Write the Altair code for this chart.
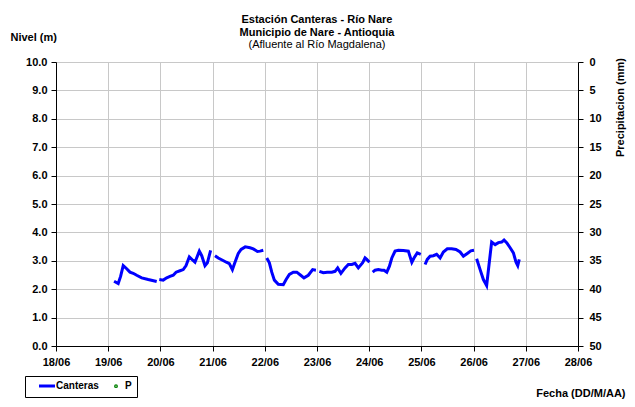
import altair as alt
import pandas as pd

# Nivel (m) readings, Estación Canteras; hours after 18/06 00:00, one list per unbroken stretch
seg1_h = [26.7, 28.6, 29.7, 30.9, 32.5, 34.0, 35.5, 37.1, 39.4, 42.4, 46.3]
seg1_v = [2.28, 2.20, 2.45, 2.83, 2.72, 2.60, 2.56, 2.49, 2.40, 2.34, 2.27]
seg2_h = [47.5, 49.3, 50.9, 52.4, 53.9, 55.2, 57.0, 58.5, 59.8, 61.3, 62.9, 63.9, 65.9, 67.0, 68.5, 69.6, 71.1]
seg2_v = [2.34, 2.32, 2.40, 2.45, 2.49, 2.60, 2.65, 2.69, 2.83, 3.14, 3.02, 2.95, 3.34, 3.18, 2.83, 2.93, 3.37]
seg3_h = [73.1, 74.6, 76.6, 78.3, 79.7, 81.1, 82.3, 83.8, 85.1, 87.0, 89.2, 90.7, 92.6, 93.8, 95.3]
seg3_v = [3.18, 3.10, 3.02, 2.95, 2.90, 2.69, 2.95, 3.26, 3.40, 3.49, 3.46, 3.42, 3.33, 3.34, 3.37]
seg4_h = [96.9, 98.1, 99.2, 100.4, 102.2, 104.5, 105.8, 107.3, 109.1, 110.7, 112.5, 114.0, 116.0, 118.0, 119.5]
seg4_v = [3.10, 2.93, 2.60, 2.32, 2.17, 2.16, 2.34, 2.52, 2.60, 2.60, 2.49, 2.40, 2.49, 2.69, 2.67]
seg5_h = [121.1, 122.9, 124.7, 126.8, 128.3, 129.5, 131.0, 132.9, 134.4, 136.0, 137.5, 139.0, 141.0, 142.1, 142.9, 144.1]
seg5_v = [2.63, 2.58, 2.60, 2.60, 2.63, 2.75, 2.56, 2.75, 2.87, 2.87, 2.91, 2.75, 2.93, 3.10, 3.05, 2.95]
seg6_h = [145.6, 146.7, 148.2, 149.8, 150.8, 152.1, 153.3, 154.4, 155.9, 157.4, 159.7, 162.0, 163.6, 164.6, 166.1, 167.7]
seg6_v = [2.60, 2.67, 2.69, 2.67, 2.67, 2.60, 2.81, 3.10, 3.34, 3.37, 3.36, 3.34, 2.95, 3.10, 3.28, 3.23]
seg7_h = [169.7, 170.7, 172.0, 173.5, 175.0, 176.6, 178.1, 179.9, 181.9, 183.9, 185.8, 187.3, 189.1, 190.7, 192.2]
seg7_v = [2.87, 3.05, 3.16, 3.18, 3.23, 3.10, 3.31, 3.42, 3.42, 3.40, 3.31, 3.16, 3.26, 3.35, 3.37]
seg8_h = [193.4, 195.0, 196.5, 198.0, 199.1, 200.3, 201.9, 203.4, 204.9, 206.0, 207.2, 208.8, 210.3, 211.5, 212.3, 213.0]
seg8_v = [3.07, 2.69, 2.34, 2.13, 2.87, 3.66, 3.57, 3.64, 3.66, 3.73, 3.64, 3.46, 3.28, 2.95, 2.83, 3.05]

# Precipitación P (mm): no readings in this period
p_h = []
p_v = []

series_names = ["Canteras", "P"]
series_colors = ["#0000FF", "#008000"]
day_ticks = [18, 19, 20, 21, 22, 23, 24, 25, 26, 27, 28]

base = pd.Timestamp("2010-06-18 00:00")
segs = [(seg1_h, seg1_v), (seg2_h, seg2_v), (seg3_h, seg3_v), (seg4_h, seg4_v),
        (seg5_h, seg5_v), (seg6_h, seg6_v), (seg7_h, seg7_v), (seg8_h, seg8_v)]
rows = []
for i, (hs, vs) in enumerate(segs):
    for h, v in zip(hs, vs):
        rows.append({"fecha": base + pd.Timedelta(hours=h), "nivel": v, "seg": i, "serie": "Canteras"})
df_line = pd.DataFrame(rows)
df_p = pd.DataFrame({"fecha": [base + pd.Timedelta(hours=h) for h in p_h],
                     "p": p_v, "serie": ["P"] * len(p_h)})

FONT = "Liberation Sans"
x_dom = [alt.DateTime(year=2010, month=6, date=18), alt.DateTime(year=2010, month=6, date=28)]
x_vals = [alt.DateTime(year=2010, month=6, date=d) for d in day_ticks]

x_enc = alt.X("fecha:T",
              scale=alt.Scale(domain=x_dom),
              axis=alt.Axis(values=x_vals, format="%d/%m", title="Fecha (DD/M/AA)",
                            titleAlign="right", titleAnchor="end", titleX=569, titleY=47,
                            titleBaseline="middle", tickSize=5, labelPadding=5,
                            grid=True, labelFlush=False))

sym_expr = "datum.value === 'P' ? 'circle' : 'stroke'"
size_expr = "datum.value === 'P' ? 2 : 256"
sw_expr = "datum.value === 'P' ? 2.5 : 3"

line = alt.Chart(df_line).mark_line(strokeWidth=3, interpolate="linear").encode(
    x=x_enc,
    y=alt.Y("nivel:Q", scale=alt.Scale(domain=[0, 10], nice=False),
            axis=alt.Axis(values=list(range(0, 11)), format=".1f", title="Nivel (m)",
                          orient="left", titleAngle=0, titleAlign="left", titleX=-46, titleY=-25,
                          titleBaseline="middle", tickSize=5, labelPadding=4, grid=True)),
    color=alt.Color("serie:N",
                    scale=alt.Scale(domain=series_names, range=series_colors),
                    legend=alt.Legend(title=None, orient="none", direction="horizontal",
                                      legendX=-31, legendY=314,
                                      symbolType=alt.ExprRef(sym_expr),
                                      symbolSize=alt.ExprRef(size_expr),
                                      symbolStrokeWidth=alt.ExprRef(sw_expr),
                                      symbolOffset=12,
                                      labelExpr="datum.label === 'P' ? 'P\u2003\u2003' : datum.label",
                                      strokeColor="black", fillColor="white",
                                      padding=5, columnPadding=0, labelFontSize=10,
                                      labelFontWeight="bold", labelFont=FONT,
                                      labelColor="black")),
    detail="seg:N",
)

precip = alt.Chart(df_p).mark_point(shape="square", size=6, filled=True, color="#008000").encode(
    x=alt.X("fecha:T", scale=alt.Scale(domain=x_dom)),
    y=alt.Y("p:Q", scale=alt.Scale(domain=[0, 50], reverse=True, nice=False),
            axis=alt.Axis(values=list(range(0, 51, 5)), format="d", title="Precipitacion (mm)",
                          orient="right", titleAngle=270, titleX=42, titleY=45,
                          titleAlign="center", titleBaseline="middle",
                          tickSize=5, labelPadding=6, grid=False)),
)

chart = alt.layer(line, precip).resolve_scale(y="independent").properties(
    width=522, height=284,
    autosize=alt.AutoSizeParams(type="none"),
    padding={"left": 48, "top": 54, "right": 49, "bottom": 53},
    title=alt.TitleParams(text=["Estación Canteras - Río Nare", "Municipio de Nare - Antioquia"],
                          subtitle="(Afluente al Río Magdalena)",
                          anchor="middle", font=FONT, fontSize=11, fontWeight="bold",
                          color="black", lineHeight=13.5,
                          subtitleFont=FONT, subtitleFontSize=11, subtitleFontWeight="normal",
                          subtitleColor="black", subtitlePadding=1, offset=-19),
).configure(
    font=FONT,
).configure_view(
    strokeWidth=0,
).configure_axis(
    labelFont=FONT, labelFontSize=11, labelFontWeight="bold", labelColor="black",
    titleFont=FONT, titleFontSize=11, titleFontWeight="bold", titleColor="black",
    domainColor="black", domainWidth=1, tickColor="black", tickWidth=1,
    gridColor="#c8c8c8", gridWidth=1,
)

chart.save("out.html", embed_options={"renderer": "svg", "actions": False})
